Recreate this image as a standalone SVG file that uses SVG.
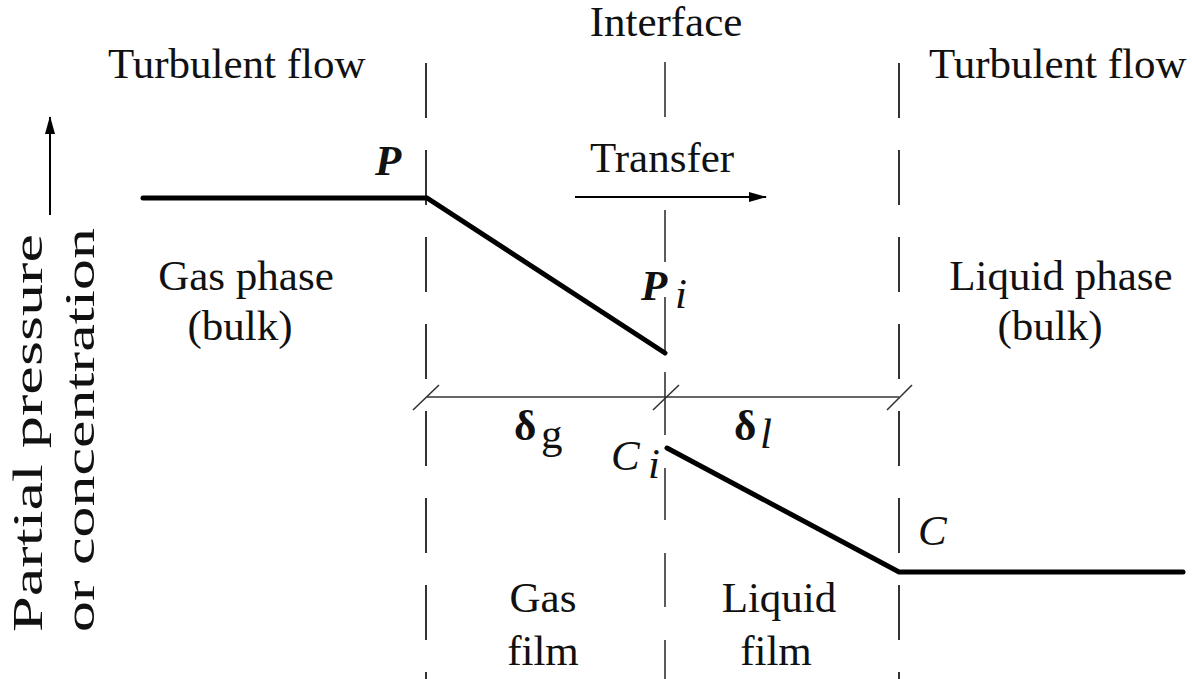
<svg xmlns="http://www.w3.org/2000/svg" width="1192" height="679" viewBox="0 0 1192 679">
<defs>
<style>
text{font-family:'Liberation Serif','DejaVu Serif','Times New Roman',serif;font-size:43px;fill:#111}
.it{font-style:italic}
.b{font-weight:bold}
.dash{stroke:#333;stroke-width:2;fill:none;stroke-dasharray:55 32}
.thin{stroke:#333;stroke-width:1.6;fill:none}
.thick{stroke:#000;stroke-width:5;fill:none;stroke-linejoin:miter;stroke-linecap:round}
</style>
<marker id="ah" markerWidth="18" markerHeight="10" refX="17" refY="5" orient="auto" markerUnits="userSpaceOnUse">
<path d="M0,0 L18,5 L0,10 Z" fill="#000"/>
</marker>
</defs>
<rect width="1192" height="679" fill="#fff"/>
<g id="connectors">
<line class="dash" x1="426" y1="63" x2="426" y2="679"/>
<line class="dash" x1="899" y1="63" x2="899" y2="679"/>
<g class="thin">
<line x1="665" y1="62" x2="665" y2="117"/>
<line x1="665" y1="210" x2="665" y2="262"/>
<line x1="665" y1="297" x2="665" y2="355"/>
<line x1="665" y1="372" x2="665" y2="435"/>
<line x1="665" y1="468" x2="665" y2="520"/>
<line x1="665" y1="553" x2="665" y2="607"/>
<line x1="665" y1="640" x2="665" y2="679"/>
</g>
<polyline class="thick" points="143,198 427,198 665,353"/>
<polyline class="thick" points="667,448 899,572 1183,572"/>
<line class="thin" x1="427" y1="397" x2="899" y2="397"/>
<line class="thin" x1="413" y1="410" x2="439" y2="385"/>
<line class="thin" x1="653" y1="410" x2="679" y2="385"/>
<line class="thin" x1="887" y1="410" x2="912" y2="385"/>
<line x1="575" y1="197" x2="766" y2="197" stroke="#000" stroke-width="2" marker-end="url(#ah)"/>
<line x1="50" y1="215" x2="50" y2="117" stroke="#000" stroke-width="2" marker-end="url(#ah)"/>
</g>
<g id="labels-top">
<text x="666" y="36" text-anchor="middle">Interface</text>
<text x="108" y="78">Turbulent flow</text>
<text x="929" y="78">Turbulent flow</text>
<text x="590" y="172">Transfer</text>
</g>
<g id="node-P"><text class="it b" x="375" y="175" font-size="40">P</text></g>
<g id="node-Pi"><text class="it b" x="641" y="300" font-size="40">P</text><text class="it" x="675" y="308" font-size="28">i</text></g>
<g id="node-gas-bulk">
<text x="246" y="290" text-anchor="middle">Gas phase</text>
<text x="240" y="340" text-anchor="middle">(bulk)</text>
</g>
<g id="node-liquid-bulk">
<text x="1061" y="290" text-anchor="middle">Liquid phase</text>
<text x="1050" y="340" text-anchor="middle">(bulk)</text>
</g>
<g id="node-dg"><text class="b" x="514" y="440">δ</text><text x="541" y="448" font-size="30">g</text></g>
<g id="node-dl"><text class="b" x="734" y="440">δ</text><text class="it" x="760" y="448" font-size="30">l</text></g>
<g id="node-Ci"><text class="it" x="611" y="470">C</text><text class="it" x="648" y="478" font-size="28">i</text></g>
<g id="node-C"><text class="it" x="918" y="545">C</text></g>
<g id="node-gas-film">
<text x="543" y="612" text-anchor="middle">Gas</text>
<text x="543" y="665" text-anchor="middle">film</text>
</g>
<g id="node-liquid-film">
<text x="779" y="612" text-anchor="middle">Liquid</text>
<text x="776" y="665" text-anchor="middle">film</text>
</g>
<g id="axis-label">
<text transform="translate(42,632) rotate(-90)" font-size="50" textLength="398" lengthAdjust="spacingAndGlyphs">Partial pressure</text>
<text transform="translate(94,632) rotate(-90)" font-size="50" textLength="404" lengthAdjust="spacingAndGlyphs">or concentration</text>
</g>
</svg>
